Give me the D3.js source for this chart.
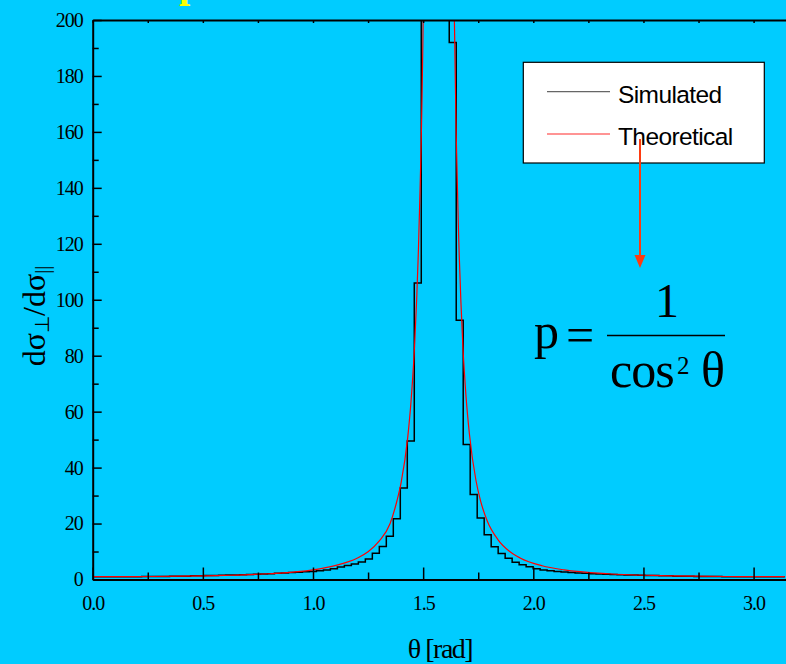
<!DOCTYPE html>
<html>
<head>
<meta charset="utf-8">
<script src="https://cdn.jsdelivr.net/npm/d3@7"></script>
<style>
  body { margin: 0; background: #00ccff; }
  svg { display: block; }
</style>
</head>
<body>
<svg id="chart" width="786" height="664"></svg>
<script>
// histogram of simulated ratio, 99 equal bins over [0, pi]
const simCounts = [
  1.0, 1.0, 1.0, 1.0, 1.0, 1.0, 1.0, 1.1, 1.1, 1.1, 1.1, 1.2, 1.2, 1.2, 1.3, 1.3, 1.4,
  1.4, 1.5, 1.6, 1.6, 1.7, 1.8, 1.9, 2.0, 2.1, 2.2, 2.3, 2.5, 2.6, 2.8, 2.9, 3.1, 3.4,
  3.8, 4.5, 5.0, 5.5, 6.3, 7.3, 9.4, 11.8, 15.5, 21.7, 32.7, 49.5, 106,
  330, 760, 790, 420,
  192, 92.7, 48.3, 30.4, 22.0, 16.0, 11.7, 9.3, 7.6, 6.2, 5.3, 4.6,
  3.8, 3.4, 3.1, 2.9, 2.7, 2.5, 2.3, 2.2, 2.1, 2.0, 1.9, 1.8, 1.7, 1.6, 1.6, 1.5, 1.4,
  1.4, 1.3, 1.3, 1.2, 1.2, 1.2, 1.1, 1.1, 1.1, 1.1, 1.0, 1.0, 1.0, 1.0, 1.0, 1.0, 1.0,
  1.0, 1.0
];

// theoretical curve
const theoryTheta = [0, 0.2, 0.4, 0.6, 0.8, 1.0, 1.1, 1.2, 1.25, 1.3, 1.35, 1.38, 1.4, 1.43, 1.445,
  1.46, 1.48, 1.5, 1.52, 1.62, 1.64, 1.65, 1.66, 1.68, 1.695, 1.71, 1.74, 1.76, 1.79, 1.84,
  1.89, 1.94, 2.04, 2.14, 2.34, 2.54, 2.74, 2.94, 3.1416];
const theoryP = [1.0, 1.04, 1.18, 1.47, 2.06, 3.43, 4.98, 7.62, 9.9, 13.7, 20.0, 27.8, 34.6, 50.8, 63.7,
  82, 122, 200, 390, 410, 209, 159, 126, 84, 65, 52, 35.3, 28.3, 21.1, 14.2,
  10.2, 7.7, 4.9, 3.43, 2.06, 1.47, 1.18, 1.04, 1.0];

const xTicks = [0, 0.5, 1.0, 1.5, 2.0, 2.5, 3.0];
const xMinorTicks = [0.25, 0.75, 1.25, 1.75, 2.25, 2.75];
const yTicks = [0, 20, 40, 60, 80, 100, 120, 140, 160, 180, 200];
const yMinorTicks = [10, 30, 50, 70, 90, 110, 130, 150, 170, 190];
const legendNames = ["Simulated", "Theoretical"];

const svg = d3.select("#chart");
const plotLeft = 92.7, plotTop = 20, plotBottom = 579.5;
const x = d3.scaleLinear().domain([0, 3.2]).range([plotLeft, plotLeft + 3.2 * 220.3]);
const y = d3.scaleLinear().domain([0, 200]).range([plotBottom, plotTop]);
const serif = "'Liberation Serif', 'Times New Roman', serif";
const sans = "'Liberation Sans', Arial, sans-serif";

// cut-off yellow title at the very top
svg.append("text")
  .attr("x", 179).attr("y", -3.5)
  .attr("font-family", serif).attr("font-size", 40).attr("font-weight", "bold")
  .attr("fill", "#ffff00")
  .text("p");

svg.append("clipPath").attr("id", "plot")
  .append("rect")
  .attr("x", plotLeft).attr("y", plotTop)
  .attr("width", 786 - plotLeft).attr("height", plotBottom - plotTop);

// histogram as a step line
const nBins = simCounts.length;
const binW = Math.PI / nBins;
const stepPts = simCounts.map((c, i) => [i * binW, c]);
stepPts.push([Math.PI, simCounts[nBins - 1]]);

const plot = svg.append("g").attr("clip-path", "url(#plot)");

plot.append("path")
  .datum(stepPts)
  .attr("fill", "none")
  .attr("stroke", "#000")
  .attr("stroke-width", 1.5)
  .attr("d", d3.line().x(d => x(d[0])).y(d => y(d[1])).curve(d3.curveStepAfter));

plot.append("path")
  .datum(theoryTheta.map((t, i) => [t, theoryP[i]]))
  .attr("fill", "none")
  .attr("stroke", "#ff0000")
  .attr("stroke-width", 1.2)
  .attr("d", d3.line().x(d => x(d[0])).y(d => y(d[1])).curve(d3.curveMonotoneX));

// axes
function styleAxis(g) {
  g.select(".domain").attr("stroke", "#000").attr("stroke-width", 2);
  g.selectAll(".tick line").attr("stroke", "#000").attr("stroke-width", 1.5);
  g.selectAll(".tick text")
    .attr("font-family", serif).attr("font-size", 20)
    .attr("letter-spacing", -1).attr("fill", "#000");
}

svg.append("g")
  .attr("transform", `translate(0,${plotBottom})`)
  .call(d3.axisBottom(x).tickValues(xTicks).tickSize(-12).tickSizeOuter(0)
    .tickPadding(16).tickFormat(d3.format(".1f")))
  .call(styleAxis);

svg.append("g")
  .attr("transform", `translate(0,${plotBottom})`)
  .call(d3.axisBottom(x).tickValues(xMinorTicks).tickSize(-7).tickFormat(""))
  .call(g => g.select(".domain").remove())
  .call(styleAxis);

svg.append("g")
  .attr("transform", `translate(0,${plotTop})`)
  .call(d3.axisTop(x).tickValues(xTicks.concat(xMinorTicks)).tickSize(-3).tickSizeOuter(0).tickFormat(""))
  .call(styleAxis);

svg.append("g")
  .attr("transform", `translate(${plotLeft},0)`)
  .call(d3.axisLeft(y).tickValues(yTicks).tickSize(-9).tickSizeOuter(0).tickPadding(10))
  .call(styleAxis);

svg.append("g")
  .attr("transform", `translate(${plotLeft},0)`)
  .call(d3.axisLeft(y).tickValues(yMinorTicks).tickSize(-6).tickFormat(""))
  .call(g => g.select(".domain").remove())
  .call(styleAxis);

// axis titles
svg.append("text")
  .attr("x", 440).attr("y", 658)
  .attr("text-anchor", "middle")
  .attr("font-family", serif).attr("font-size", 28).attr("letter-spacing", -1.5)
  .text("θ [rad]");

const yTitle = svg.append("text")
  .attr("transform", "translate(45,316) rotate(-90)")
  .attr("text-anchor", "middle")
  .attr("font-family", serif).attr("font-size", 32);
yTitle.append("tspan").text("dσ");
yTitle.append("tspan").attr("font-size", 20).attr("dy", 4).text("⊥");
yTitle.append("tspan").attr("dy", -4).text("/dσ");
yTitle.append("tspan").attr("font-size", 20).attr("dy", 4).text("||");

// legend
const legend = svg.append("g");
legend.append("rect")
  .attr("x", 523.3).attr("y", 62.3)
  .attr("width", 241).attr("height", 100.7)
  .attr("fill", "#fff").attr("stroke", "#000").attr("stroke-width", 1.2);

const legendColors = ["#666", "#ff7070"];
legend.selectAll("line.key")
  .data(legendNames)
  .enter().append("line")
  .attr("class", "key")
  .attr("x1", 547).attr("x2", 610)
  .attr("y1", (d, i) => 91.7 + i * 42.3)
  .attr("y2", (d, i) => 91.7 + i * 42.3)
  .attr("stroke", (d, i) => legendColors[i])
  .attr("stroke-width", 1.3);

legend.selectAll("text")
  .data(legendNames)
  .enter().append("text")
  .attr("x", 618)
  .attr("y", (d, i) => 103 + i * 42)
  .attr("font-family", sans).attr("font-size", 24.5).attr("letter-spacing", -0.6)
  .attr("fill", "#000")
  .text(d => d);

// arrow to the formula
svg.append("line")
  .attr("x1", 640).attr("y1", 139).attr("x2", 640).attr("y2", 257)
  .attr("stroke", "#ff3a10").attr("stroke-width", 2);
svg.append("path")
  .attr("d", "M634.5,255 L645.5,255 L640,268 Z")
  .attr("fill", "#ff3a10");

// formula p = 1 / cos^2 theta
const f = svg.append("g").attr("font-family", serif).attr("fill", "#000");
f.append("text").attr("x", 534).attr("y", 348).attr("font-size", 50).text("p");
f.append("text").attr("x", 566).attr("y", 352).attr("font-size", 50).text("=");
f.append("line").attr("x1", 607).attr("x2", 725).attr("y1", 335.5).attr("y2", 335.5)
  .attr("stroke", "#000").attr("stroke-width", 1.3);
f.append("text").attr("x", 667).attr("y", 317).attr("text-anchor", "middle").attr("font-size", 48).text("1");
f.append("text").attr("x", 610).attr("y", 387).attr("font-size", 50).attr("letter-spacing", -1).text("cos");
f.append("text").attr("x", 677).attr("y", 374).attr("font-size", 25).text("2");
f.append("text").attr("x", 701).attr("y", 387).attr("font-size", 50).text("θ");
</script>
</body>
</html>
